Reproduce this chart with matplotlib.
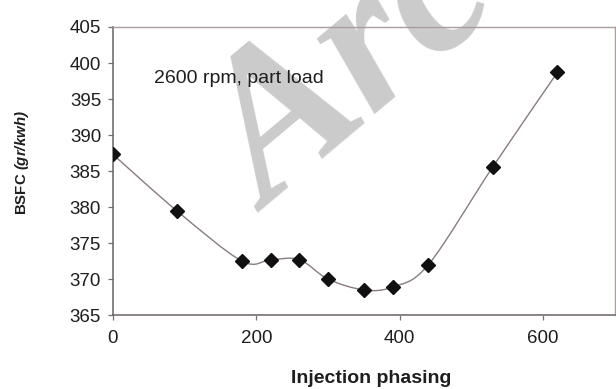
import numpy as np
import matplotlib as mpl
import matplotlib.pyplot as plt
from matplotlib.path import Path
from matplotlib.patches import PathPatch

mpl.rcParams.update({
    'font.family': 'sans-serif',
    'font.sans-serif': ['Liberation Sans', 'DejaVu Sans'],
    'mathtext.fontset': 'custom',
    'mathtext.rm': 'Liberation Sans',
    'mathtext.bf': 'Liberation Sans:bold',
    'mathtext.bfit': 'Liberation Sans:italic:bold',
})

# BSFC against injection phasing, 2600 rpm part load
phasing = [0, 90, 180, 220, 260, 300, 350, 390, 440, 530, 620]
bsfc = [387.3, 379.4, 372.5, 372.7, 372.7, 370.0, 368.5, 368.9, 372.0, 385.6, 398.7]

LINE_C = '#8a7c7c'
SPINE_DARK = '#6b6262'
SPINE_LIGHT = '#a99d9d'


def smooth_path(x, y, tension=1 / 6):
    """Cubic Bezier path through the points (Catmull-Rom style smoothing)."""
    pts = np.column_stack([x, y]).astype(float)
    n = len(pts)
    verts = [pts[0]]
    codes = [Path.MOVETO]
    for i in range(n - 1):
        p0 = pts[i - 1] if i > 0 else pts[i]
        p1 = pts[i]
        p2 = pts[i + 1]
        p3 = pts[i + 2] if i + 2 < n else pts[i + 1]
        c1 = p1 + (p2 - p0) * tension
        c2 = p2 - (p3 - p1) * tension
        verts += [c1, c2, p2]
        codes += [Path.CURVE4] * 3
    return Path(verts, codes)


fig = plt.figure(figsize=(6.16, 3.89), dpi=100)
ax = fig.add_axes([0.1834, 0.190, 0.8146, 0.7406])
ax.set_zorder(1)
ax.patch.set_visible(False)

# light watermark behind the plot
fig.text(0.436, 0.455, 'Arc', fontsize=150, family='Liberation Serif',
         weight='bold', style='italic', color='#cbcbcb', rotation=40,
         rotation_mode='anchor', ha='left', va='baseline', zorder=0)

ax.add_patch(PathPatch(smooth_path(phasing, bsfc), facecolor='none',
                       edgecolor=LINE_C, linewidth=1.0, zorder=2))
ax.plot(phasing, bsfc, linestyle='none', marker='D', markersize=6.8,
        color='#111111', zorder=3)

ax.set_xlim(0, 700)
ax.set_ylim(365, 405)
ax.set_xticks([0, 200, 400, 600])
ax.set_yticks(np.arange(365, 406, 5))

for side in ['left', 'bottom']:
    ax.spines[side].set_color(SPINE_DARK)
    ax.spines[side].set_linewidth(1.1)
for side in ['top', 'right']:
    ax.spines[side].set_color(SPINE_LIGHT)
    ax.spines[side].set_linewidth(1.0)

ax.tick_params(axis='both', direction='out', length=3.5, width=0.9,
               color='#7a7070', labelsize=13.5, labelcolor='#1e1e1e')
ax.tick_params(axis='y', pad=5)
ax.tick_params(axis='x', pad=7)

ax.text(57, 397.9, '2600 rpm, part load', fontsize=14, color='#1e1e1e',
        ha='left', va='center')

fig.text(0.036, 0.583, r'BSFC $\mathbfit{(gr/kwh)}$', fontsize=10.8,
         weight='bold', rotation=90, ha='center', va='center', color='#1e1e1e')
fig.text(0.603, 0.028, 'Injection phasing', fontsize=14, weight='bold',
         ha='center', va='center', color='#1e1e1e')

fig.savefig('out.png', dpi=100)
